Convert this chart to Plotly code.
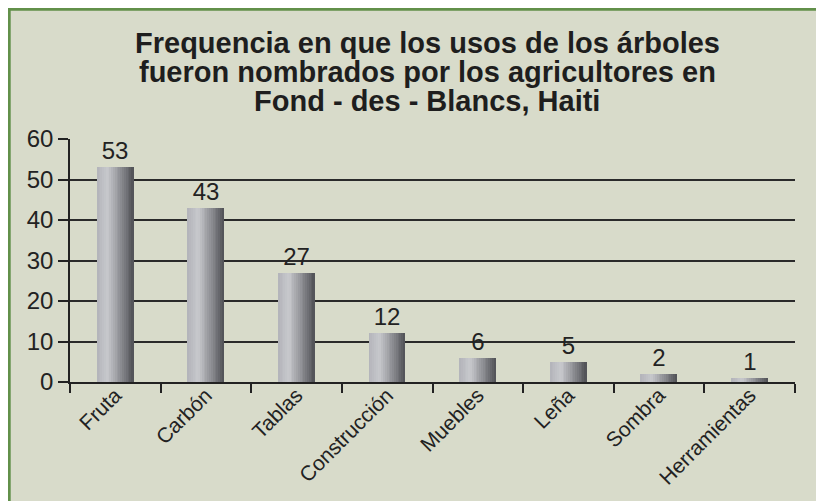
import plotly.graph_objects as go

categories = ["Fruta", "Carbón", "Tablas", "Construcción", "Muebles", "Leña", "Sombra", "Herramientas"]
values = [53, 43, 27, 12, 6, 5, 2, 1]
y_ticks = [0, 10, 20, 30, 40, 50, 60]
title_lines = ["Frequencia en que los usos de los árboles",
               "fueron nombrados por los agricultores en",
               "Fond - des - Blancs, Haiti"]

FONT = "Liberation Sans, Arial, sans-serif"
BAR_W = 0.4
N_STRIPES = 20

# gradient stops (position, rgb) – style only
stops = [(0.0, (178, 179, 185)), (0.3, (200, 201, 205)), (0.65, (142, 143, 148)), (1.0, (80, 81, 85))]

def grad(t):
    for (p0, c0), (p1, c1) in zip(stops[:-1], stops[1:]):
        if p0 <= t <= p1:
            f = (t - p0) / (p1 - p0)
            return "rgb(%d,%d,%d)" % tuple(round(a + (b - a) * f) for a, b in zip(c0, c1))
    return "rgb(%d,%d,%d)" % stops[-1][1]

fig = go.Figure()
sw = BAR_W / N_STRIPES
for i in range(N_STRIPES):
    fig.add_trace(go.Bar(
        x=categories, y=values,
        width=sw * 1.08, offset=-BAR_W / 2 + i * sw,
        marker=dict(color=grad((i + 0.5) / N_STRIPES), line=dict(width=0)),
        hoverinfo="skip", showlegend=False,
    ))

fig.add_trace(go.Bar(
    x=categories, y=values, width=BAR_W,
    marker=dict(color="rgba(0,0,0,0)", line=dict(width=0)),
    text=[str(v) for v in values], textposition="outside",
    textfont=dict(family=FONT, size=24, color="#222222"),
    cliponaxis=False, showlegend=False, hoverinfo="skip",
))

W, H = 824, 501
L, R, T, B = 62, 37, 131, 127
pw, ph = W - L - R, H - T - B

def px_x(p):
    return (p - L) / pw

def px_y(p):
    return (H - B - p) / ph

fig.add_shape(type="rect", xref="paper", yref="paper",
              x0=px_x(1.2), x1=px_x(814.5), y0=px_y(530), y1=px_y(1.2),
              fillcolor="#d8dbca", line=dict(color="#62904a", width=3), layer="below")

title_mid_px = [34.5, 63.5, 92.5]
for line, ypx in zip(title_lines, title_mid_px):
    fig.add_annotation(text="<b>" + line + "</b>", xref="paper", yref="paper",
                       x=px_x(419), y=px_y(ypx), xanchor="center", yanchor="middle",
                       showarrow=False, font=dict(family=FONT, size=29, color="#1e1e1e"))

fig.update_layout(
    width=W, height=H,
    margin=dict(l=L, r=R, t=T, b=B),
    paper_bgcolor="white", plot_bgcolor="rgba(0,0,0,0)",
    barmode="overlay", bargap=0,
    hovermode=False,
    font=dict(family=FONT, color="#222222"),
    xaxis=dict(range=[-0.5, 7.5], tickson="boundaries", ticks="outside", ticklen=9,
               tickcolor="#222222", tickwidth=1.5, showline=True, linecolor="#222222", linewidth=1.5,
               tickangle=-45, tickfont=dict(family=FONT, size=21, color="#222222"),
               ticklabelstandoff=-9,
               showgrid=False, fixedrange=True),
    yaxis=dict(range=[0, 60], tickvals=y_ticks, ticks="outside", ticklen=10,
               tickcolor="#222222", tickwidth=1.5, showline=True, linecolor="#222222", linewidth=1.5,
               showgrid=True, gridcolor="#2a2a2a", gridwidth=1.5,
               tickfont=dict(family=FONT, size=24, color="#222222"), zeroline=False, fixedrange=True),
)

fig.write_html("out.html")
